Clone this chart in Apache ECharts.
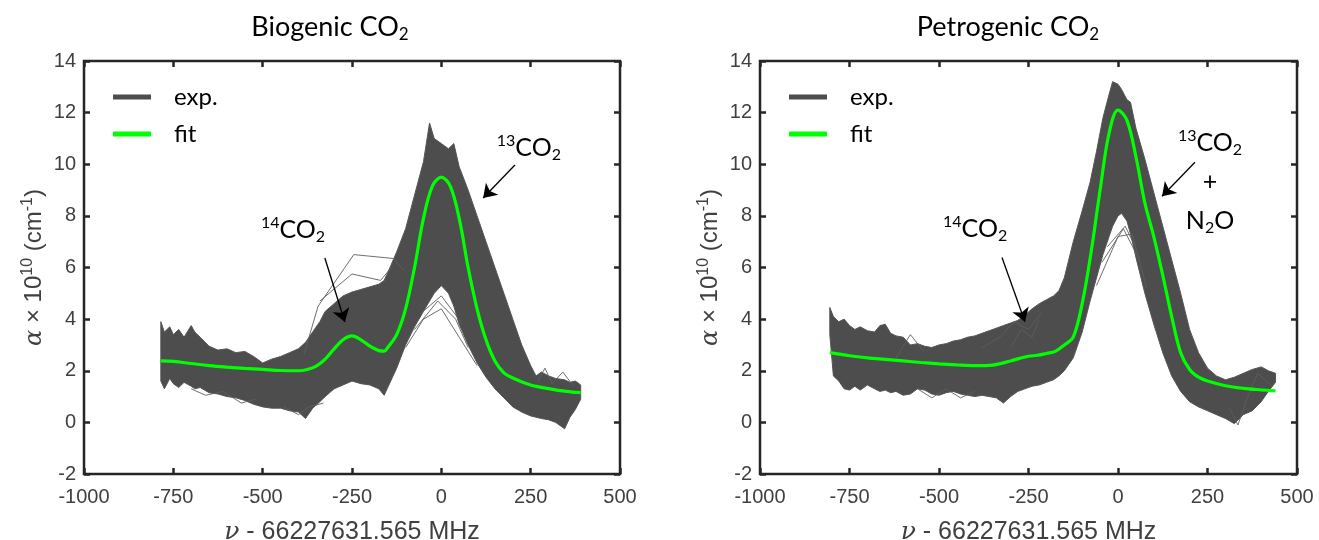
<!DOCTYPE html>
<html><head><meta charset="utf-8">
<script src="https://cdn.jsdelivr.net/npm/echarts@6/dist/echarts.min.js"></script>
<style>html,body{margin:0;padding:0;background:#fff}#c{width:1319px;height:540px}</style>
</head><body><div id="c"></div>
<script>
// ---------- axis ticks ----------
const xTicks = [-1000, -750, -500, -250, 0, 250, 500];
const yTicks = [-2, 0, 2, 4, 6, 8, 10, 12, 14];

// ---------- Biogenic CO2 : envelope of experimental traces ----------
const bioX = [-785,-775,-760,-750,-735,-720,-700,-690,-675,-650,-625,-600,-575,-550,-525,-500,-475,-450,-425,-400,-380,-360,-340,-325,-300,-275,-250,-225,-200,-175,-160,-150,-125,-100,-75,-50,-33,-20,0,20,35,50,75,100,125,150,175,200,225,250,265,280,300,320,345,360,375,390];
const bioUpper = [3.9,3.5,3.7,3.4,3.6,3.3,3.75,3.5,3.3,2.95,2.8,2.85,2.7,2.75,2.55,2.3,2.45,2.55,2.7,2.85,3.1,3.5,3.9,4.3,4.6,4.9,5.05,5.15,5.25,5.35,5.5,5.8,6.6,7.5,8.8,10.1,11.6,11.0,10.8,10.6,10.8,9.9,9.0,8.0,7.0,6.0,5.0,4.0,3.0,2.2,1.8,1.95,1.8,1.7,1.65,1.55,1.6,1.45];
const bioLower = [1.6,1.3,1.7,1.5,1.35,1.55,1.4,1.3,1.35,1.15,1.1,1.0,0.95,0.85,0.7,0.6,0.55,0.55,0.45,0.4,0.15,0.55,0.8,1.0,1.3,1.45,1.6,1.5,1.45,1.3,1.05,1.35,2.1,3.0,3.7,4.3,4.7,5.0,5.3,5.0,4.5,3.8,3.0,2.3,1.75,1.3,0.95,0.6,0.4,0.25,0.2,0.15,0.1,0.0,-0.25,0.2,0.5,0.9];
// individual stray traces (x, y pairs)
const bioStray1 = [[-385,2.6],[-345,4.5],[-245,6.5],[-135,6.35],[-105,5.9]];
const bioStray2 = [[-340,4.7],[-250,5.75],[-170,5.5],[-140,6.0]];
const bioStray3 = [[-100,2.9],[-50,4.0],[0,4.4],[50,3.3],[100,2.2]];
const bioStray4 = [[-75,3.6],[-10,4.7],[40,4.0],[75,2.9]];
const bioStray5 = [[-60,4.2],[0,4.9],[60,3.8]];
const bioStray6 = [[-700,1.3],[-660,1.05],[-610,1.2],[-560,0.75],[-520,0.9]];
const bioStray7 = [[-440,0.6],[-400,0.3],[-370,0.6],[-330,0.75]];
const bioStray8 = [[270,1.6],[290,2.1],[310,1.5],[340,1.95],[370,1.4]];
// fit
const bioFitX = [-785,-750,-700,-650,-600,-550,-500,-450,-400,-375,-350,-325,-300,-275,-250,-225,-200,-175,-160,-150,-125,-100,-75,-50,-25,0,25,50,75,100,125,150,175,200,250,300,350,390];
const bioFit = [2.38,2.36,2.28,2.2,2.14,2.09,2.05,2.01,2.0,2.05,2.18,2.45,2.85,3.2,3.35,3.2,2.95,2.78,2.76,2.9,3.4,4.4,6.0,7.9,9.15,9.5,9.15,7.9,6.0,4.4,3.2,2.38,1.92,1.72,1.45,1.31,1.2,1.15];

// ---------- Petrogenic CO2 ----------
const petroX = [-805,-795,-780,-765,-750,-735,-720,-700,-680,-665,-650,-635,-620,-600,-580,-560,-540,-520,-500,-480,-460,-440,-420,-400,-380,-360,-340,-320,-300,-280,-260,-240,-220,-200,-180,-165,-150,-125,-100,-78,-60,-42,-25,-15,0,10,25,35,50,75,100,125,150,175,200,225,250,275,300,325,350,375,400,420,440];
const petroUpper = [4.45,4.1,3.9,4.0,3.75,3.6,3.7,3.55,3.5,3.75,3.8,3.45,3.35,3.3,3.0,3.05,2.95,2.9,3.0,3.05,3.15,3.2,3.3,3.35,3.45,3.55,3.65,3.75,3.85,3.95,4.15,4.4,4.6,4.75,4.9,5.1,5.6,7.0,8.2,9.3,10.5,11.8,12.7,13.2,13.1,12.9,12.5,12.4,11.4,10.2,8.9,7.6,6.3,5.0,3.6,2.7,2.1,1.8,1.65,1.75,1.9,2.05,2.15,2.0,1.9];
const petroLower = [3.4,1.8,1.6,1.3,1.25,1.4,1.25,1.45,1.3,1.2,1.25,1.15,1.2,1.05,1.1,1.3,1.25,1.1,1.05,1.15,1.2,1.1,1.05,1.0,1.05,1.0,0.95,0.75,1.0,1.2,1.3,1.4,1.45,1.55,1.65,1.8,2.0,2.5,3.5,4.7,5.6,6.5,7.2,7.6,8.0,8.1,7.8,7.3,6.4,5.0,3.8,2.7,1.8,1.2,0.8,0.6,0.45,0.3,0.15,-0.05,0.3,0.45,0.8,1.2,1.55];
const petroStray1 = [[-380,2.9],[-330,3.3],[-290,3.9],[-250,3.6],[-210,4.3]];
const petroStray2 = [[-620,2.5],[-580,3.4],[-540,2.7]];
const petroStray3 = [[-60,5.3],[0,7.2],[40,7.3],[80,5.2]];
const petroStray4 = [[-45,6.2],[15,7.5],[60,6.3]];
const petroStray5 = [[-30,6.8],[20,7.6],[45,6.9]];
const petroStray6 = [[-560,1.3],[-520,0.95],[-480,1.3],[-440,0.95],[-400,1.2]];
const petroStray7 = [[-300,2.9],[-270,3.6],[-240,3.3],[-220,4.0]];
const petroStray8 = [[310,0.6],[335,-0.1],[360,0.9],[390,1.9],[430,1.4]];
const petroFitX = [-805,-750,-700,-650,-600,-550,-500,-450,-400,-350,-300,-275,-250,-225,-200,-175,-150,-125,-100,-75,-50,-25,0,25,50,75,100,125,150,175,200,225,250,300,350,400,440];
const petroFit = [2.7,2.58,2.5,2.44,2.38,2.32,2.27,2.23,2.2,2.22,2.38,2.48,2.56,2.6,2.67,2.75,3.0,3.3,4.6,6.6,9.0,11.2,12.1,11.7,10.3,8.5,7.2,5.7,4.1,2.7,2.05,1.75,1.6,1.42,1.32,1.26,1.22];

// ---------- annotations (data coordinates) ----------
const bioLabels = [
  {coord:[245,10.63], text:'{sup|13}CO{sub|2}'},
  {coord:[-415,7.45], text:'{sup|14}CO{sub|2}'}
];
const bioArrows = [
  [[206,9.97],[117,8.69]],
  [[-326,6.37],[-270,3.89]]
];
const petroLabels = [
  {coord:[257,10.82], text:'{sup|13}CO{sub|2}'},
  {coord:[257,9.30], text:'+'},
  {coord:[257,7.79], text:'N{sub|2}O'},
  {coord:[-399,7.51], text:'{sup|14}CO{sub|2}'}
];
const petroArrows = [
  [[215,10.08],[123,8.76]],
  [[-324,6.39],[-260,3.90]]
];

// ---------- styles ----------
const FONT = 'Lato';
const BAND = '#4d4d4d';
const GREEN = '#00ff00';
const AX = '#262626';
const LBL = '#404040';

function richSet(size){
  return {
    sup:{fontFamily:FONT, fontSize:Math.round(size*0.62), lineHeight:Math.round(size*0.62), verticalAlign:'top', color:'#000'},
    sub:{fontFamily:FONT, fontSize:Math.round(size*0.62), lineHeight:Math.round(size*0.62), verticalAlign:'bottom', color:'#000'}
  };
}
const numFmt = v => String(v);

function xAxisPair(gridIndex){
  const base = {
    type:'value', gridIndex, min:xTicks[0], max:xTicks[xTicks.length-1], interval:xTicks[1]-xTicks[0],
    axisLine:{show:false, onZero:false},
    axisTick:{show:true, inside:true, length:6, lineStyle:{color:AX, width:2.5}},
    splitLine:{show:false}
  };
  return [
    Object.assign({}, base, {
      position:'bottom',
      axisLabel:{color:LBL, fontSize:20, fontFamily:'Liberation Sans', margin:13, formatter:numFmt},
      name:'{nu|ν} - 66227631.565 MHz', nameLocation:'middle', nameGap:46,
      nameTextStyle:{color:LBL, fontSize:25, fontFamily:'Liberation Sans',
        rich:{nu:{fontFamily:'DejaVu Serif', fontStyle:'italic', fontSize:25, color:LBL}}}
    }),
    Object.assign({}, base, {position:'top', axisLabel:{show:false}})
  ];
}
function yAxisPair(gridIndex){
  const base = {
    type:'value', gridIndex, min:yTicks[0], max:yTicks[yTicks.length-1], interval:yTicks[1]-yTicks[0],
    axisLine:{show:false, onZero:false},
    axisTick:{show:true, inside:true, length:6, lineStyle:{color:AX, width:2.5}},
    splitLine:{show:false}
  };
  return [
    Object.assign({}, base, {
      position:'left',
      axisLabel:{color:LBL, fontSize:20, fontFamily:'Liberation Sans', margin:8, formatter:numFmt},
      name:'{a|α} × 10{s|10} (cm{s|-1})', nameLocation:'middle', nameGap:34,
      nameTextStyle:{color:LBL, fontSize:24, fontFamily:'Liberation Sans', lineHeight:30,
        rich:{
          a:{fontFamily:'DejaVu Serif', fontStyle:'italic', fontSize:24, color:LBL, lineHeight:30},
          s:{fontFamily:'Liberation Sans', fontSize:16, color:LBL, lineHeight:16, verticalAlign:'top'}
        }}
    }),
    Object.assign({}, base, {position:'right', axisLabel:{show:false}})
  ];
}

function bandSeries(xi, yi, xs, up, lo){
  return {
    type:'custom', name:'exp.', xAxisIndex:xi, yAxisIndex:yi, z:2, silent:true,
    itemStyle:{color:BAND},
    data:[[xs[0], up[0]]],
    renderItem:function(params, api){
      const pts = [];
      for (let i=0;i<xs.length;i++) pts.push(api.coord([xs[i], up[i]]));
      for (let i=xs.length-1;i>=0;i--) pts.push(api.coord([xs[i], lo[i]]));
      return {type:'polygon', shape:{points:pts}, style:{fill:BAND, stroke:'#555555', lineWidth:1, lineJoin:'miter'}};
    }
  };
}
function strays(xi, yi, list){
  return list.map(d => ({
    type:'line', name:'exp.', xAxisIndex:xi, yAxisIndex:yi, data:d, showSymbol:false, silent:true, z:3,
    lineStyle:{color:'#5e5e5e', width:0.9}, itemStyle:{color:BAND}
  }));
}
function fitSeries(xi, yi, xs, ys, labels, arrows){
  return {
    type:'line', name:'fit', xAxisIndex:xi, yAxisIndex:yi, z:5, silent:true,
    data:xs.map((x,i)=>[x, ys[i]]), smooth:0.35, showSymbol:false,
    lineStyle:{color:GREEN, width:3.2}, itemStyle:{color:GREEN},
    markPoint:{
      silent:true, symbol:'circle', symbolSize:0, animation:false,
      label:{show:true, position:'inside', fontFamily:FONT, fontSize:25, lineHeight:30, color:'#000', rich:richSet(25)},
      data:labels.map(l => ({coord:l.coord, value:0, label:{formatter:l.text}}))
    },
    markLine:{
      silent:true, animation:false, symbol:['none','arrow'], symbolSize:13,
      lineStyle:{color:'#000', width:1.3, type:'solid'}, label:{show:false}, emphasis:{disabled:true},
      data:arrows.map(a => [{coord:a[0]},{coord:a[1]}])
    }
  };
}

const xa = xAxisPair(0).concat(xAxisPair(1));
const ya = yAxisPair(0).concat(yAxisPair(1));

function legendAt(left){
  return {
    left, top:80, orient:'vertical', itemWidth:38, itemHeight:5, itemGap:13, selectedMode:false,
    data:[{name:'exp.', icon:'rect', itemStyle:{color:BAND}}, {name:'fit', icon:'rect', itemStyle:{color:GREEN}}],
    textStyle:{fontFamily:FONT, fontSize:24, color:'#000', padding:[0,0,0,18]}
  };
}
const gridBox = {show:true, borderColor:AX, borderWidth:2.5, backgroundColor:'rgba(0,0,0,0)', containLabel:false, outerBoundsMode:'none'};

const option = {
  animation:false,
  backgroundColor:'#fff',
  title:[
    {text:'Biogenic CO{sub|2}', left:325, top:6, textAlign:'center',
      textStyle:{fontFamily:FONT, fontSize:27, fontWeight:'normal', color:'#000', lineHeight:32, rich:richSet(27)}},
    {text:'Petrogenic CO{sub|2}', left:1003, top:6, textAlign:'center',
      textStyle:{fontFamily:FONT, fontSize:27, fontWeight:'normal', color:'#000', lineHeight:32, rich:richSet(27)}}
  ],
  legend:[legendAt(108), legendAt(784)],
  grid:[
    Object.assign({left:84, top:61, width:536, height:413}, gridBox),
    Object.assign({left:760, top:61, width:537, height:413}, gridBox)
  ],
  xAxis:xa,
  yAxis:ya,
  series:[
    bandSeries(0,0,bioX,bioUpper,bioLower),
    ...strays(0,0,[bioStray1,bioStray2,bioStray3,bioStray4,bioStray5,bioStray6,bioStray7,bioStray8]),
    fitSeries(0,0,bioFitX,bioFit,bioLabels,bioArrows),
    bandSeries(2,2,petroX,petroUpper,petroLower),
    ...strays(2,2,[petroStray1,petroStray2,petroStray3,petroStray4,petroStray5,petroStray6,petroStray7,petroStray8]),
    fitSeries(2,2,petroFitX,petroFit,petroLabels,petroArrows)
  ]
};
const chart = echarts.init(document.getElementById('c'), null, {renderer:'canvas'});
chart.setOption(option);
</script></body></html>
